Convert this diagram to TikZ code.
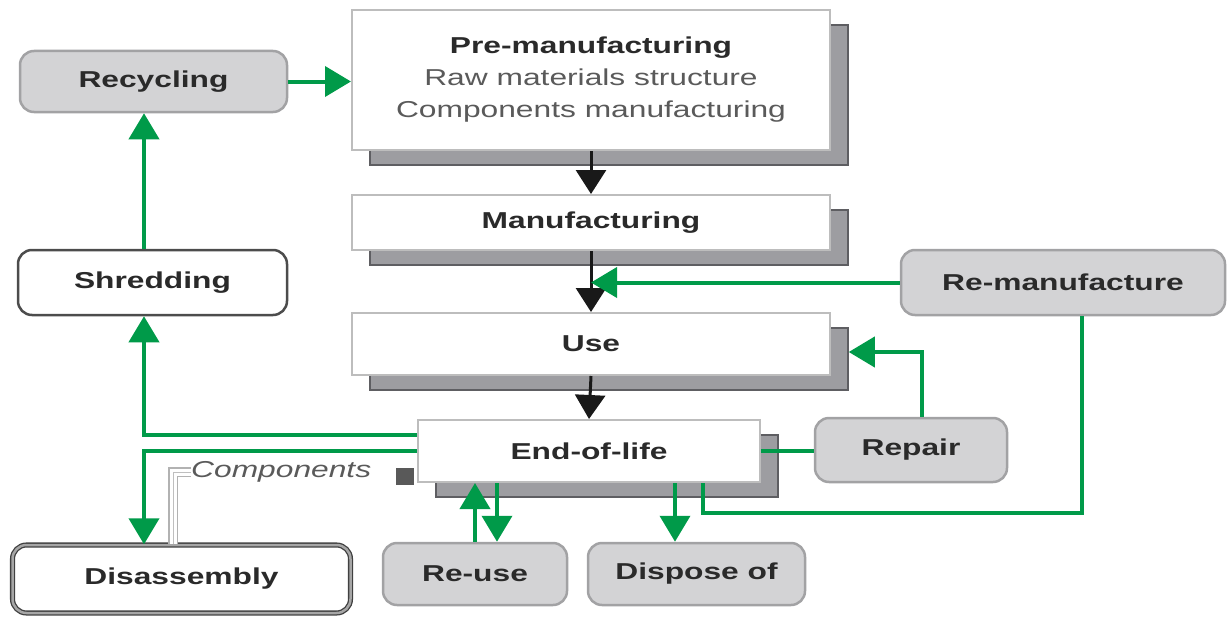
\documentclass[tikz,border=0pt]{standalone}
\usepackage{fontspec}
\setmainfont{Liberation Sans}
\newfontfamily\dfont[FakeStretch=1.38]{Liberation Sans}
\usetikzlibrary{arrows.meta}
\definecolor{gr}{HTML}{009A49}
\definecolor{gfill}{HTML}{D3D3D5}
\definecolor{gdraw}{HTML}{A2A2A4}
\definecolor{shfill}{HTML}{9D9DA1}
\definecolor{shdraw}{HTML}{5E5E62}
\definecolor{bxdraw}{HTML}{BDBDBD}
\definecolor{txt}{HTML}{2A2A2A}
\definecolor{txtl}{HTML}{5A5A5A}
\begin{document}
\begin{tikzpicture}[x=1pt,y=-1pt,
  lbl/.style={font=\dfont\fontsize{23}{32}\selectfont\bfseries, text=txt, inner sep=0pt},
  shadowbox/.style={fill=shfill, draw=shdraw, line width=1.5pt, inner sep=0pt},
  mainbox/.style={lbl, fill=white, draw=bxdraw, line width=2pt},
  graybox/.style={lbl, rounded corners=14pt, fill=gfill, draw=gdraw, line width=2.5pt},
  whitebox/.style={lbl, rounded corners=14pt, fill=white, draw=black!70, line width=2.5pt},
  dblbox/.style={lbl, rounded corners=14pt, fill=white, draw=black!75, double=black!35, double distance=2.5pt, line width=1.3pt},
  gline/.style={draw=gr, line width=4pt},
  garrow/.style={gline, -{Triangle[length=26pt,width=30pt]}},
  barrow/.style={draw=black!90, line width=3pt, -{Triangle[length=24pt,width=30pt]}},
  pipe/.style={draw=black!30, double=white, double distance=7pt, line width=1.5pt},
  pipemid/.style={draw=black!25, line width=1pt}
]
\useasboundingbox (0,0) rectangle (1228,618);
\coordinate (lx) at (144,0);
\coordinate (ey1) at (0,435);
\coordinate (rmx) at (703,0);
\coordinate (rmc) at (1082,513);
\coordinate (rp) at (922,352);
\coordinate (px) at (173,472);

% shadows
\node[shadowbox,minimum width=478pt,minimum height=140pt] (pres) at (609,95) {};
\node[shadowbox,minimum width=478pt,minimum height=55pt] (manus) at (609,237.5) {};
\node[shadowbox,minimum width=478pt,minimum height=62pt] (uses) at (609,359) {};
\node[shadowbox,minimum width=342pt,minimum height=62pt] (eols) at (607,466) {};

% components pipe
\node[font=\dfont\fontsize{23}{28}\selectfont\itshape, text=txtl, inner sep=0pt, anchor=west] (comp) at (191,472) {Components};
\node[fill=black!65, minimum width=18pt, minimum height=17pt, inner sep=0pt] (cmark) at (405,476) {};

% main boxes
\node[mainbox,minimum width=478pt,minimum height=140pt,align=center] (pre) at (591,80)
  {Pre-manufacturing\\{\mdseries\color{txtl}Raw materials structure}\\{\mdseries\color{txtl}Components manufacturing}};
\node[mainbox,minimum width=478pt,minimum height=55pt] (manu) at (591,222.5) {Manufacturing};
\node[mainbox,minimum width=478pt,minimum height=62pt] (use) at (591,344) {Use};
\node[mainbox,minimum width=342pt,minimum height=62pt] (eol) at (589,451) {End-of-life};

\node[graybox,minimum width=267pt,minimum height=61pt] (recycling) at (153.5,81.5) {Recycling};
\node[whitebox,minimum width=269pt,minimum height=65pt] (shredding) at (152.5,282.5) {Shredding};
\node[dblbox,minimum width=338pt,minimum height=68pt] (disassembly) at (181.5,579) {Disassembly};
\node[graybox,minimum width=184pt,minimum height=62pt] (reuse) at (475,574) {Re-use};
\node[graybox,minimum width=217pt,minimum height=62pt] (dispose) at (696.5,574) {Dispose of};
\node[graybox,minimum width=324pt,minimum height=65pt] (remanuf) at (1063,282.5) {Re-manufacture};
\node[graybox,minimum width=192pt,minimum height=64pt] (repair) at (911,450) {Repair};

% pipe
\draw[pipe] (comp.west) -- (px) -- (px |- disassembly.north);
\draw[pipemid] (comp.west) -- (px) -- (px |- disassembly.north);

% black flow
\draw[barrow] (pre.south) -- (manu.north);
\draw[barrow] (manu.south) -- (use.north);
\draw[barrow] (use.south) -- (eol.north);

% green connectors
\draw[garrow] (shredding.north -| lx) -- (recycling.south -| lx);
\draw[garrow] (recycling.east) -- (recycling.east -| pre.west);
\draw[garrow] (remanuf.west) -- (remanuf.west -| manu.south);
\draw[gline] (eol.south -| rmx) -- (rmx |- rmc) -- (rmc) -- (rmc |- remanuf.south);
\draw[gline] (eol.east) -- (eol.east -| repair.west);
\draw[garrow] (rp |- repair.north) -- (rp) -- (rp -| uses.east);
\draw[garrow] (eol.west |- ey1) -- (lx |- ey1) -- (shredding.south -| lx);
\draw[garrow] (eol.west) -- (lx |- eol.west) -- (disassembly.north -| lx);
\draw[garrow] (reuse.north -| 475,0) -- (eol.south -| 475,0);
\draw[garrow] (eol.south -| 497,0) -- (reuse.north -| 497,0);
\draw[garrow] (eol.south -| 675,0) -- (dispose.north -| 675,0);
\end{tikzpicture}
\end{document}
